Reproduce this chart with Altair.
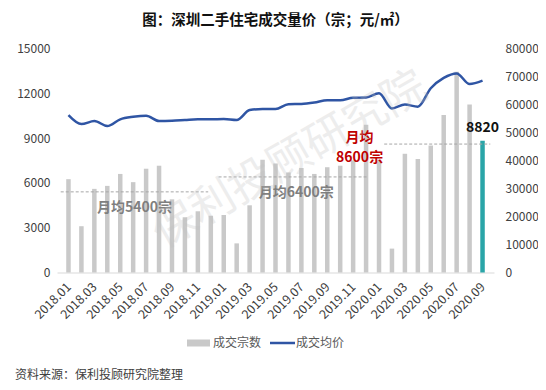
import altair as alt
import pandas as pd

months = ["2018.01", "2018.02", "2018.03", "2018.04", "2018.05", "2018.06",
          "2018.07", "2018.08", "2018.09", "2018.10", "2018.11", "2018.12",
          "2019.01", "2019.02", "2019.03", "2019.04", "2019.05", "2019.06",
          "2019.07", "2019.08", "2019.09", "2019.10", "2019.11", "2019.12",
          "2020.01", "2020.02", "2020.03", "2020.04", "2020.05", "2020.06",
          "2020.07", "2020.08", "2020.09"]
volumes = [6250, 3100, 5600, 5800, 6600, 6050, 6950, 7150, 4900, 3700, 4100, 3800,
           3850, 1950, 4500, 7550, 7300, 6700, 7000, 6600, 7050, 7150, 7500, 9900,
           7550, 1600, 7950, 7600, 8500, 10550, 13450, 11250, 8820]
prices = [56200, 53000, 54100, 52300, 54700, 55600, 56000, 54100, 54200, 54450, 54700, 54700,
          54800, 54450, 58000, 58400, 58350, 60100, 60200, 60700, 61500, 61500, 62400, 62500,
          64000, 58600, 60000, 59200, 65800, 69500, 71100, 67300, 68500]
highlight = ["2020.09"]

avg_values = [5400, 6400, 8600]
avg_start = [-0.6, 11.6, 24.4]
avg_end = [10.8, 23.1, 32.6]

ann_text = ["月均5400宗", "月均6400宗", "月均", "8600宗"]
ann_x = [5.1, 17.6, 22.5, 22.5]
ann_y = [4300, 5300, 9000, 7700]
ann_color = ["#7f7f7f", "#7f7f7f", "#c00000", "#c00000"]

FONT = "Noto Sans CJK SC"

df = pd.DataFrame({"month": months, "idx": list(range(len(months))),
                   "volume": volumes, "price": prices})
df["hl"] = df["month"].isin(highlight)
avg_df = pd.DataFrame({"v": avg_values, "s": avg_start, "e": avg_end})
ann_df = pd.DataFrame({"t": ann_text, "x": ann_x, "y": ann_y, "c": ann_color})

label_expr = "[" + ",".join(f"'{m}'" for m in months) + "][datum.value]"

xscale = alt.Scale(domain=[-0.5, len(months) - 0.5], nice=False, zero=False)
x_axis = alt.Axis(values=list(range(0, len(months), 2)), labelExpr=label_expr,
                  labelAngle=315, labelAlign="right", labelBaseline="middle",
                  labelFontSize=12.5, labelColor="#404040", labelFont=FONT,
                  labelPadding=12, labelOffset=0, labelOverlap=False, labelBound=False,
                  labelFlush=False, ticks=False, grid=False, domainColor="#d9d9d9", title=None)


def X(field):
    return alt.X(field, scale=xscale, axis=x_axis)


yl_scale = alt.Scale(domain=[0, 15000], nice=False)
yl_axis = alt.Axis(values=[0, 3000, 6000, 9000, 12000, 15000], orient="left", format="d",
                   labelFontSize=12, labelColor="#404040", labelFont=FONT,
                   labelPadding=7, domain=False, ticks=False, grid=False, title=None)
yr_scale = alt.Scale(domain=[0, 80000], nice=False)
yr_axis = alt.Axis(values=list(range(0, 80001, 10000)), orient="right", format="d",
                   labelFontSize=12, labelColor="#404040", labelFont=FONT,
                   labelPadding=11, domain=False, ticks=False, grid=False, title=None)

base = alt.Chart(df)

bars = base.mark_bar(size=4.5).encode(
    x=X("idx:Q"),
    y=alt.Y("volume:Q", scale=yl_scale, axis=yl_axis),
    color=alt.condition("datum.hl", alt.value("#2aa5a8"), alt.value("#c9c9c9")),
)

avg_rules = alt.Chart(avg_df).mark_rule(strokeDash=[3, 2], color="#a6a6a6", strokeWidth=1).encode(
    x=X("s:Q"),
    x2="e:Q",
    y=alt.Y("v:Q", scale=yl_scale, axis=yl_axis),
)

ann = alt.Chart(ann_df).mark_text(font=FONT, fontSize=14, fontWeight="bold",
                                  align="center", baseline="middle").encode(
    x=X("x:Q"),
    y=alt.Y("y:Q", scale=yl_scale, axis=yl_axis),
    text="t:N",
    color=alt.Color("c:N", scale=None),
)

last_label = base.transform_filter("datum.hl").mark_text(
    font=FONT, fontSize=14, fontWeight="bold", color="#111111",
    baseline="bottom", dy=-6).encode(
    x=X("idx:Q"),
    y=alt.Y("volume:Q", scale=yl_scale, axis=yl_axis),
    text=alt.Text("volume:Q", format="d"),
)

watermark = alt.Chart(pd.DataFrame({"t": ["保利投顾研究院"]})).mark_text(
    font=FONT, fontSize=44, angle=330, color="#bfbfbf", opacity=0.28,
    align="center", baseline="middle").encode(
    x=alt.value(233), y=alt.value(112), text="t:N")

left = alt.layer(bars, avg_rules, ann, last_label)

line = base.mark_line(color="#2f55a4", strokeWidth=2.5, interpolate="monotone").encode(
    x=X("idx:Q"),
    y=alt.Y("price:Q", scale=yr_scale, axis=yr_axis),
)

# legend and source (decoration)
legend_items = alt.layer(
    alt.Chart(df.head(1)).mark_rect(color="#c9c9c9").encode(
        x=alt.value(130), x2=alt.value(153), y=alt.value(291), y2=alt.value(298)),
    alt.Chart(df.head(1)).mark_rule(color="#2f55a4", strokeWidth=2.5).encode(
        x=alt.value(213), x2=alt.value(238), y=alt.value(294.5)),
    alt.Chart(pd.DataFrame({"t": ["成交宗数"]})).mark_text(
        font=FONT, fontSize=12, color="#595959", align="left", baseline="middle").encode(
        x=alt.value(156), y=alt.value(294.5), text="t:N"),
    alt.Chart(pd.DataFrame({"t": ["成交均价"]})).mark_text(
        font=FONT, fontSize=12, color="#595959", align="left", baseline="middle").encode(
        x=alt.value(239), y=alt.value(294.5), text="t:N"),
    alt.Chart(pd.DataFrame({"t": ["资料来源：保利投顾研究院整理"]})).mark_text(
        font=FONT, fontSize=12, color="#404040", align="left", baseline="middle").encode(
        x=alt.value(-42), y=alt.value(326.5), text="t:N"),
)

chart = alt.layer(left, line, legend_items, watermark).resolve_scale(y="independent").properties(
    width=437, height=224,
    padding={"left": 49, "top": 40.5, "right": 44, "bottom": 109.5},
    autosize=alt.AutoSizeParams(type="none"),
    title=alt.TitleParams("图：深圳二手住宅成交量价（宗；元/㎡）", font=FONT, fontSize=14.5,
                          fontWeight="bold", color="#111111", anchor="middle", offset=14),
).configure_view(stroke=None)

chart.save("out.html", embed_options={"renderer": "svg", "actions": False})
